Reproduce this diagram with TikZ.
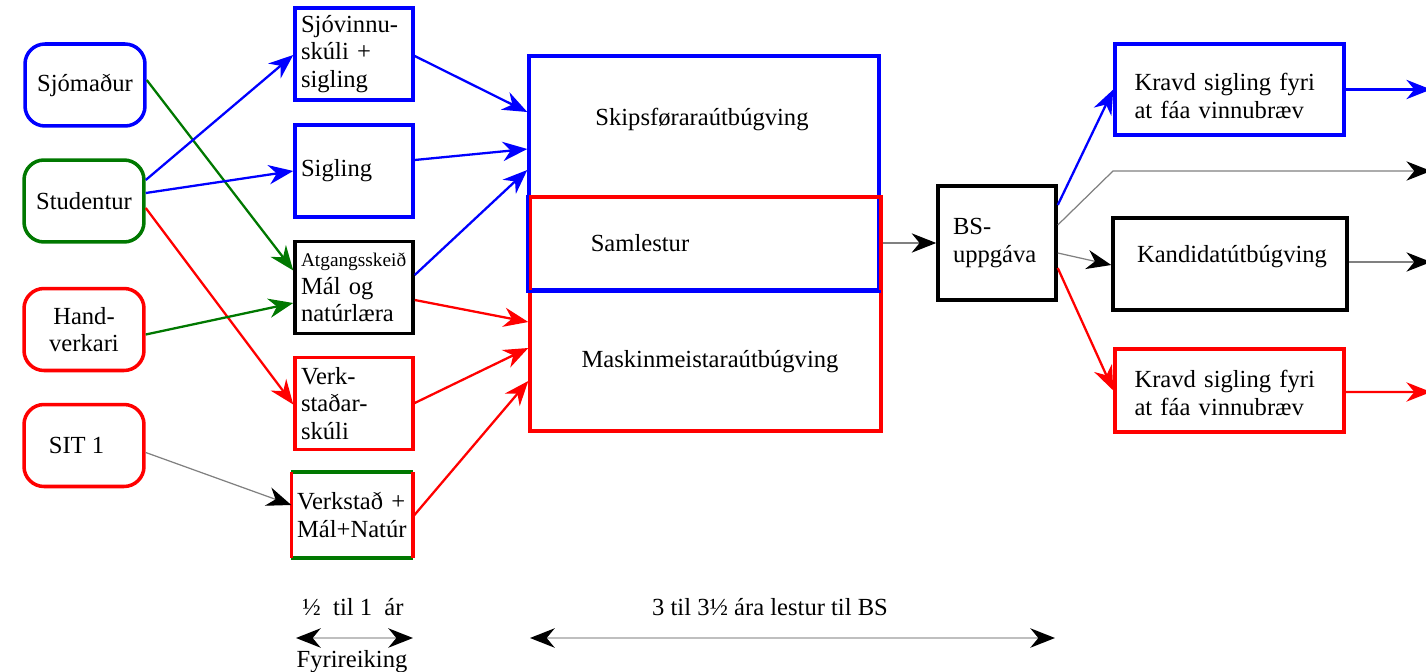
\documentclass[tikz,border=0pt]{standalone}
\usepackage{fontspec}
\setmainfont{Liberation Serif}
\usetikzlibrary{arrows.meta,calc}
\definecolor{cblue}{RGB}{0,0,255}
\definecolor{cgreen}{RGB}{0,120,0}
\definecolor{cred}{RGB}{255,0,0}
\begin{document}
\begin{tikzpicture}[x=0.02cm,y=-0.02cm,
  font=\fontsize{14}{15.5}\selectfont,
  rbox/.style={draw, line width=2pt, rounded corners=0.4cm, minimum width=2.4cm, minimum height=1.64cm, inner sep=0pt},
  sbox/.style={line width=2pt, minimum width=2.36cm, minimum height=1.84cm, inner sep=0pt},
  stxt/.style={text width=2.12cm, align=left},
  con/.style={line width=1.3pt, -{Stealth[length=14pt,width=11pt,inset=4.5pt]}},
  gcon/.style={draw=gray, line width=0.7pt, -{Stealth[length=14pt,width=11pt,inset=4.5pt,black]}},
  dbl/.style={draw=lightgray, line width=1.5pt, {Stealth[length=14pt,width=11pt,inset=4.5pt,black]}-{Stealth[length=14pt,width=11pt,inset=4.5pt,black]}},
]
\useasboundingbox (0,0) rectangle (1426,672);
% left column
\node[rbox, draw=cblue] (sjo) at (85,85) {Sjómaður};
\node[rbox, draw=cgreen] (stu) at (84,201) {Studentur};
\node[rbox, draw=cred, align=center] (hand) at (84,329.5) {Hand-\\verkari};
\node[rbox, draw=cred] (sit) at (84,445.5) {SIT 1\rule{0.3cm}{0pt}};
% second column
\node[sbox, draw=cblue, stxt] (sjv) at (354,54) {Sjóvinnu-\\skúli +\\sigling};
\node[sbox, draw=cblue, stxt] (sig) at (354,171) {Sigling};
\node[sbox, draw=black, stxt] (at) at (354,287.5) {{\fontsize{11}{12}\selectfont Atgangsskeið}\\Mál og\\natúrlæra};
\node[sbox, draw=cred, stxt] (vsk) at (354,403.5) {Verk-\\staðar-\\skúli};
\node[sbox, minimum height=1.64cm, stxt, text width=2.2cm] (vmn) at (352,515) {Verkstað +\\Mál+Natúr};
\draw[cgreen, line width=2pt] (vmn.north west) -- (vmn.north east) (vmn.south west) -- (vmn.south east);
\draw[cred, line width=2pt] (vmn.north west) -- (vmn.south west) (vmn.north east) -- (vmn.south east);
% big boxes
\node[draw=cblue, line width=2pt, minimum width=7cm, minimum height=4.68cm, inner sep=0pt] (skip) at (704,173) {};
\node[draw=cred, line width=2pt, minimum width=7.02cm, minimum height=4.68cm, inner sep=0pt] (mask) at (705.5,314) {};
\draw[cblue, line width=2pt] (skip.west |- mask.north) -- (skip.south west) -- (skip.south east);
\node (skipt) at (702,119) {Skipsføraraútbúgving};
\node (saml) at (640,243) {Samlestur};
\node (maskt) at (710,362) {Maskinmeistaraútbúgving};
% BS
\node[sbox, draw=black, minimum height=2.28cm, stxt, text width=1.76cm] (bs) at (997,243) {BS-\\uppgáva};
% right column
\node[draw=cblue, line width=2pt, minimum width=4.58cm, minimum height=1.82cm, inner sep=0pt] (kb) at (1229.5,89.5) {};
\node[text width=3.8cm, align=left, inner sep=0pt] (kbt) at (1229.5,96) {Kravd sigling fyri\\at fáa vinnubræv};
\node[draw=black, line width=2pt, minimum width=4.68cm, minimum height=1.84cm, inner sep=0pt] (kand) at (1230,264) {};
\node (kandt) at (1232,257) {Kandidatútbúgving};
\node[draw=cred, line width=2pt, minimum width=4.58cm, minimum height=1.66cm, inner sep=0pt] (kr) at (1229.5,390.5) {};
\node[text width=3.8cm, align=left, inner sep=0pt] (krt) at (1229.5,393) {Kravd sigling fyri\\at fáa vinnubræv};
% connectors left
\draw[con, cgreen] ($(sjo.east)+(0,-5)$) -- ($(at.west)+(0,-17)$);
\draw[con, cblue] ($(stu.east)+(0,-21)$) -- ($(sjv.west)+(0,1)$);
\draw[con, cblue] ($(stu.east)+(0,-8)$) -- (sig.west);
\draw[con, cred] ($(stu.east)+(0,7)$) -- ($(vsk.west)+(0,1)$);
\draw[con, cgreen] ($(hand.east)+(0,5)$) -- ($(at.west)+(0,15.5)$);
\draw[gcon] ($(sit.east)+(0,7)$) -- ($(vmn.west)+(0,-10)$);
% connectors middle
\draw[con, cblue] ($(sjv.east)+(0,2)$) -- ($(skip.west)+(0,-61)$);
\draw[con, cblue] ($(sig.east)+(0,-11)$) -- ($(skip.west)+(0,-24)$);
\draw[con, cblue] ($(at.east)+(0,-12.5)$) -- ($(skip.west)+(0,-3)$);
\draw[con, cred] ($(at.east)+(0,12.5)$) -- ($(mask.west)+(0,8)$);
\draw[con, cred] ($(vsk.east)+(0,-0.5)$) -- ($(mask.west)+(0,34)$);
\draw[con, cred] ($(vmn.east)+(0,2)$) -- ($(mask.west)+(0,67)$);
\draw[gcon] (mask.east |- bs.west) -- (bs.west);
% connectors right
\coordinate (bend) at (1113,171);
\coordinate (e1) at (1431,89.5);
\coordinate (e2) at (1431,171);
\coordinate (e3) at (1431,262);
\coordinate (e4) at (1431,392);
\draw[con, cblue] ($(bs.east)+(0,-38)$) -- (kb.west);
\draw[gcon] ($(bs.east)+(0,-18)$) -- (bend) -- (e2);
\draw[gcon] ($(bs.east)+(0,10)$) -- ($(kand.west)+(0,1)$);
\draw[con, cred] ($(bs.east)+(0,25)$) -- (kr.west);
\draw[con, cblue] (kb.east) -- (e1);
\draw[gcon] ($(kand.east)+(0,-2)$) -- (e3);
\draw[con, cred] ($(kr.east)+(0,1.5)$) -- (e4);
% bottom
\node (t1) at (353,607) {½ \ til 1 \ ár};
\coordinate (a1) at (296,638);
\coordinate (a2) at (413,638);
\draw[dbl] (a1) -- (a2);
\node (t2) at (352,662) {Fyrireiking};
\node (t3) at (770,607) {3 til 3½ ára lestur til BS};
\coordinate (b1) at (530,638);
\coordinate (b2) at (1055,638);
\draw[dbl] (b1) -- (b2);
\end{tikzpicture}
\end{document}
